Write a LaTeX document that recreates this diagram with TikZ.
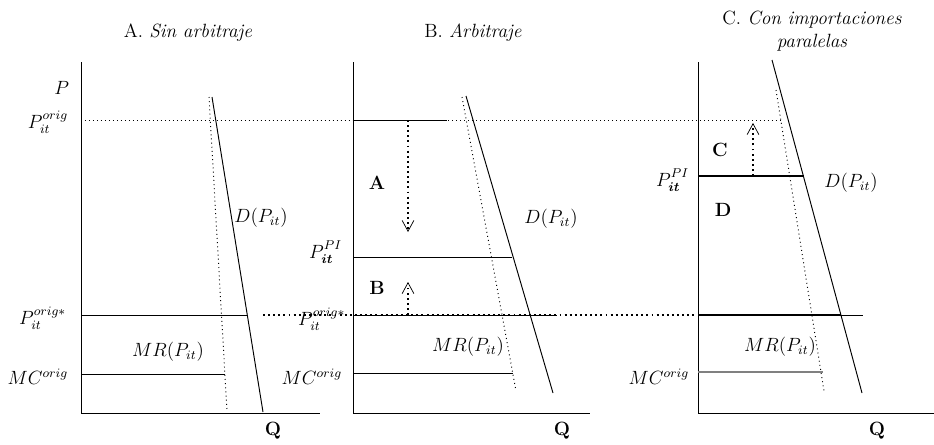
\documentclass[tikz,border=0pt]{standalone}
\usepackage{amsmath,amssymb}
\usepackage{tikz}
\usetikzlibrary{arrows.meta}

\begin{document}
\begin{tikzpicture}[x=0.22mm,y=-0.22mm,>={Straight Barb[length=2.4mm,width=2.6mm,line width=0.45pt]},
  axis/.style={line width=0.6pt},
  curve/.style={line width=0.6pt},
  mrline/.style={dotted,line width=0.6pt},
  guide/.style={dotted,line width=0.5pt},
  bigdot/.style={dotted,line width=1.2pt},
  heavy/.style={line width=1.2pt},
  lbl/.style={inner sep=1pt,font=\large},
  ttl/.style={font=\large,align=center}]
  \useasboundingbox (0,0) rectangle (934,444);
  % panel A
  \node[ttl] (tA) at (188,33) {A. \textit{Sin arbitraje}};
  \draw[axis] (81,62) -- (81,413) -- (320,413);
  \draw[guide] (81,120) -- (782,120);
  \draw[curve] (212,97) -- (263,412);
  \draw[mrline] (209,97) -- (227,411);
  \draw[curve] (81,315) -- (247,315);
  \draw[curve] (81,374) -- (225,374);
  \node[lbl,anchor=east] (pA) at (71,88) {$P$};
  \node[lbl,anchor=east] (pA0) at (70,122) {$P_{it}^{orig}$};
  \node[lbl,anchor=east] (pA1) at (68,318) {$P_{it}^{orig*}$};
  \node[lbl,anchor=east] (mcA) at (70,377) {$MC^{orig}$};
  \node[lbl] (dA) at (261,218) {$D(P_{it})$};
  \node[lbl] (mrA) at (168,352) {$MR(P_{it})$};
  \node[lbl] (qA) at (273,431) {\textbf{Q}};
  % panel B
  \node[ttl] (tB) at (473,33) {B. \textit{Arbitraje}};
  \draw[axis] (353,62) -- (353,413) -- (590,413);
  \draw[curve] (466,96) -- (553,393);
  \draw[mrline] (462,97) -- (516,391);
  \draw[curve] (353,120) -- (447,120);
  \draw[curve] (353,257) -- (512,257);
  \draw[curve] (353,315) -- (557,315);
  \draw[curve] (353,373) -- (513,373);
  \draw[bigdot] (263,315) -- (697,315);
  \draw[bigdot,->] (408,120) -- (408,232);
  \draw[bigdot,->] (408,315) -- (408,282);
  \node[lbl,anchor=east] (pB) at (344,252) {$P_{\boldsymbol{it}}^{PI\vphantom{g}}$};
  \node[lbl,anchor=east] (pB1) at (347,319) {$P_{it}^{orig*}$};
  \node[lbl,anchor=east] (mcB) at (344,377) {$MC^{orig}$};
  \node[lbl] (aB) at (377,183) {\textbf{A}};
  \node[lbl] (bB) at (377,288) {\textbf{B}};
  \node[lbl] (dB) at (551,219) {$D(P_{it})$};
  \node[lbl] (mrB) at (468,347) {$MR(P_{it})$};
  \node[lbl] (qB) at (562,431) {\textbf{Q}};
  % panel C
  \node[ttl] (tC) at (812,31) {C. \textit{Con importaciones}\\\textit{paralelas}};
  \draw[axis] (698,62) -- (698,413) -- (934,413);
  \draw[curve] (772,60) -- (862,393);
  \draw[mrline] (776,90) -- (824,391);
  \draw[heavy] (698,176) -- (804,176);
  \draw[heavy] (698,315) -- (841,315);
  \draw[curve] (841,315) -- (863,315);
  \draw[gray,heavy] (698,372) -- (823,372);
  \draw[bigdot,->] (753,176) -- (753,123);
  \node[lbl,anchor=east] (pC) at (691,180) {$P_{\boldsymbol{it}}^{PI\vphantom{g}}$};
  \node[lbl,anchor=east] (mcC) at (691,377) {$MC^{orig}$};
  \node[lbl] (cC) at (720,150) {\textbf{C}};
  \node[lbl] (dC) at (723,210) {\textbf{D}};
  \node[lbl] (dlC) at (851,183) {$D(P_{it})$};
  \node[lbl] (mrC) at (780,347) {$MR(P_{it})$};
  \node[lbl] (qC) at (877,431) {\textbf{Q}};
\end{tikzpicture}
\end{document}
